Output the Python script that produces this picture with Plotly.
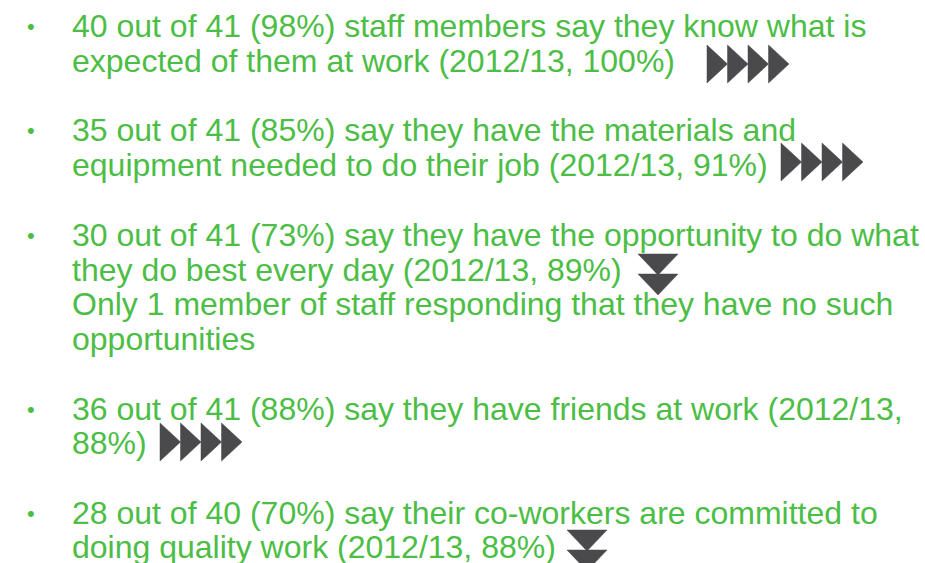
import plotly.graph_objects as go

# ---- data ----
bullet_lines = [
    ["40 out of 41 (98%) staff members say they know what is",
     "expected of them at work (2012/13, 100%)"],
    ["35 out of 41 (85%) say they have the materials and",
     "equipment needed to do their job (2012/13, 91%)"],
    ["30 out of 41 (73%) say they have the opportunity to do what",
     "they do best every day (2012/13, 89%)",
     "Only 1 member of staff responding that they have no such",
     "opportunities"],
    ["36 out of 41 (88%) say they have friends at work (2012/13,",
     "88%)"],
    ["28 out of 40 (70%) say their co-workers are committed to",
     "doing quality work (2012/13, 88%)"],
]
trends = ["same", "same", "down", "same", "down"]

# ---- layout constants (pixel coordinates) ----
W, H = 925, 563
GREEN = "#4cbd45"
DARK = "#4a4a4c"
FONT = "Liberation Sans, Arial, sans-serif"
FS = 32
line_y = [[26, 61], [130, 165], [235, 270, 304, 339], [409, 443], [513, 547]]
text_x = 71
bullet_x = 31
# icon anchor: (left x, top y) for each bullet
icon_pos = [(707, 45), (781, 143), (638, 254), (160, 423), (567, 530)]

fig = go.Figure()
annotations = []
shapes = []

for lines, ys in zip(bullet_lines, line_y):
    annotations.append(dict(x=bullet_x, y=ys[0], text="•", showarrow=False,
                            xref="x", yref="y", xanchor="center", yanchor="middle",
                            font=dict(family=FONT, size=22, color=GREEN)))
    for t, y in zip(lines, ys):
        annotations.append(dict(x=text_x, y=y, text=t, showarrow=False,
                                xref="x", yref="y", xanchor="left", yanchor="middle",
                                borderpad=0, font=dict(family=FONT, size=FS, color=GREEN)))


def right_tri(x0, y0, w=20.5, h=38):
    return f"M {x0},{y0} L {x0 + w},{y0 + h / 2} L {x0},{y0 + h} Z"


def down_tri(x0, y0, w=40, h=21):
    return f"M {x0},{y0} L {x0 + w},{y0} L {x0 + w / 2},{y0 + h} Z"


for trend, (ix, iy) in zip(trends, icon_pos):
    if trend == "same":
        for k in range(4):
            shapes.append(dict(type="path", path=right_tri(ix + k * 20.5, iy),
                               xref="x", yref="y", fillcolor=DARK,
                               line=dict(color=DARK, width=0.5)))
    else:
        for k in range(2):
            shapes.append(dict(type="path", path=down_tri(ix, iy + k * 20),
                               xref="x", yref="y", fillcolor=DARK,
                               line=dict(color=DARK, width=0.5)))

fig.update_layout(
    width=W, height=H,
    margin=dict(l=0, r=0, t=0, b=0),
    paper_bgcolor="white", plot_bgcolor="white",
    xaxis=dict(range=[0, W], visible=False, fixedrange=True),
    yaxis=dict(range=[H, 0], visible=False, fixedrange=True),
    annotations=annotations,
    shapes=shapes,
    showlegend=False,
)

fig.write_html("out.html", config={"displayModeBar": False},
               post_script="document.body.style.margin='0';")
